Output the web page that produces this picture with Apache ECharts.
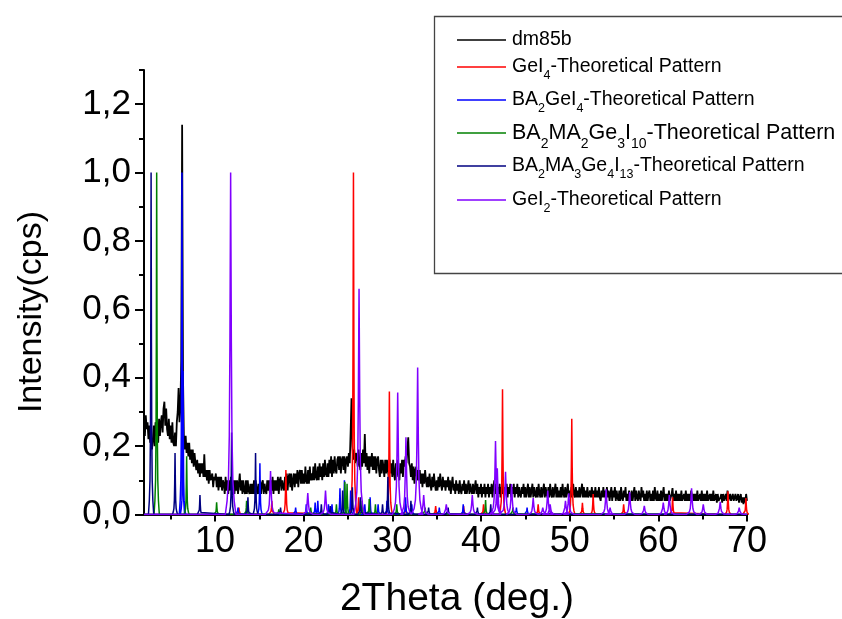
<!DOCTYPE html>
<html><head><meta charset="utf-8">
<script src="https://cdn.jsdelivr.net/npm/echarts@6/dist/echarts.min.js"></script>
<style>html,body{margin:0;padding:0;background:#fff}#c{width:842px;height:619px}</style>
</head><body><div id="c"></div>
<script>
const FONT = "'Liberation Sans', Arial, Helvetica, sans-serif";

const xTicks = [10, 20, 30, 40, 50, 60, 70];
const xMinorTicks = [5, 15, 25, 35, 45, 55, 65];
const yTicks = [0, 0.2, 0.4, 0.6, 0.8, 1.0, 1.2];
const yMinorTicks = [0.1, 0.3, 0.5, 0.7, 0.9, 1.1, 1.3];

const seriesNames = ['dm85b', 'GeI4-Theoretical Pattern', 'BA2GeI4-Theoretical Pattern',
  'BA2MA2Ge3I10-Theoretical Pattern', 'BA2MA3Ge4I13-Theoretical Pattern', 'GeI2-Theoretical Pattern'];
const legendLabels = [
  '{n|dm85b}',
  '{n|GeI}{s|4}{n|-Theoretical Pattern}',
  '{n|BA}{s|2}{n|GeI}{s|4}{n|-Theoretical Pattern}',
  '{N|BA}{S|2}{N|MA}{S|2}{N|Ge}{S|3}{N|I}{S|10}{N|-Theoretical Pattern}',
  '{n|BA}{s|2}{n|MA}{s|3}{n|Ge}{s|4}{n|I}{s|13}{n|-Theoretical Pattern}',
  '{n|GeI}{s|2}{n|-Theoretical Pattern}'
];

// measured pattern dm85b: 2θ from 2.0 in steps of 0.1
const dm85bStart = 2.0;
const dm85bStep = 0.1;
const dm85b = [
0.27,0.23,0.29,0.25,0.27,0.22,0.26,0.21,0.22,0.19,
0.22,0.26,0.20,0.27,0.23,0.25,0.21,0.28,0.23,0.27,
0.29,0.24,0.31,0.33,0.26,0.31,0.25,0.23,0.28,0.22,
0.26,0.21,0.27,0.21,0.20,0.24,0.20,0.27,0.30,0.37,
0.27,0.31,0.45,1.14,0.40,0.22,0.19,0.23,0.18,0.21,
0.17,0.21,0.16,0.19,0.15,0.19,0.14,0.18,0.15,0.13,
0.16,0.12,0.15,0.11,0.15,0.12,0.15,0.11,0.176,0.11,
0.13,0.10,0.13,0.09,0.13,0.10,0.11,0.12,0.08,0.11,
0.10,0.12,0.08,0.11,0.07,0.11,0.08,0.11,0.07,0.10,
0.09,0.06,0.11,0.07,0.10,0.06,0.10,0.07,0.11,0.08,
0.07,0.10,0.06,0.10,0.07,0.10,0.06,0.09,0.12,0.07,
0.10,0.06,0.10,0.07,0.06,0.10,0.06,0.10,0.07,0.06,
0.09,0.06,0.09,0.06,0.10,0.06,0.10,0.07,0.06,0.09,
0.06,0.10,0.06,0.09,0.10,0.06,0.09,0.07,0.06,0.10,
0.07,0.10,0.06,0.10,0.07,0.11,0.06,0.10,0.07,0.10,
0.07,0.11,0.06,0.10,0.11,0.07,0.10,0.08,0.07,0.11,
0.08,0.12,0.07,0.11,0.12,0.08,0.12,0.07,0.10,0.12,
0.08,0.12,0.09,0.13,0.08,0.12,0.13,0.09,0.13,0.09,
0.12,0.09,0.14,0.10,0.09,0.13,0.09,0.14,0.10,0.12,
0.10,0.14,0.10,0.15,0.11,0.10,0.14,0.10,0.15,0.11,
0.14,0.10,0.15,0.11,0.16,0.12,0.11,0.15,0.11,0.16,
0.12,0.17,0.11,0.16,0.12,0.17,0.13,0.12,0.16,0.17,
0.13,0.17,0.12,0.16,0.17,0.13,0.17,0.12,0.16,0.17,
0.14,0.18,0.15,0.24,0.34,0.20,0.16,0.19,0.15,0.18,
0.17,0.14,0.19,0.15,0.13,0.18,0.14,0.19,0.15,0.235,
0.14,0.18,0.13,0.17,0.12,0.17,0.14,0.18,0.13,0.17,
0.13,0.17,0.12,0.16,0.17,0.13,0.11,0.16,0.12,0.16,
0.14,0.11,0.16,0.12,0.16,0.13,0.11,0.16,0.12,0.15,
0.11,0.16,0.12,0.10,0.15,0.11,0.16,0.12,0.10,0.15,
0.12,0.16,0.11,0.16,0.14,0.17,0.15,0.19,0.226,0.15,
0.14,0.11,0.15,0.10,0.14,0.09,0.13,0.14,0.10,0.13,
0.10,0.13,0.09,0.12,0.08,0.12,0.09,0.13,0.10,0.08,
0.11,0.08,0.12,0.09,0.07,0.11,0.08,0.12,0.09,0.07,
0.10,0.07,0.11,0.08,0.12,0.09,0.07,0.11,0.08,0.10,
0.07,0.10,0.08,0.11,0.07,0.10,0.06,0.09,0.11,0.07,
0.09,0.06,0.10,0.07,0.09,0.06,0.10,0.07,0.06,0.09,
0.07,0.10,0.06,0.09,0.06,0.08,0.10,0.06,0.09,0.07,
0.06,0.09,0.06,0.08,0.10,0.06,0.09,0.05,0.08,0.06,
0.09,0.05,0.08,0.06,0.09,0.05,0.08,0.06,0.09,0.05,
0.08,0.06,0.09,0.05,0.08,0.10,0.06,0.09,0.05,0.08,
0.06,0.09,0.05,0.08,0.06,0.09,0.05,0.08,0.06,0.09,
0.05,0.08,0.06,0.09,0.05,0.08,0.06,0.09,0.05,0.08,
0.06,0.09,0.05,0.08,0.06,0.05,0.08,0.06,0.09,0.05,
0.08,0.05,0.07,0.09,0.05,0.08,0.05,0.07,0.09,0.05,
0.08,0.06,0.05,0.08,0.05,0.09,0.06,0.05,0.08,0.05,
0.07,0.09,0.05,0.08,0.06,0.05,0.08,0.05,0.09,0.06,
0.05,0.08,0.05,0.07,0.09,0.05,0.08,0.05,0.07,0.05,
0.08,0.05,0.09,0.06,0.05,0.08,0.05,0.07,0.09,0.05,
0.07,0.05,0.08,0.05,0.09,0.06,0.05,0.08,0.05,0.07,
0.05,0.08,0.05,0.07,0.09,0.05,0.08,0.05,0.07,0.05,
0.08,0.05,0.05,0.07,0.05,0.08,0.05,0.07,0.05,0.08,
0.05,0.07,0.05,0.08,0.05,0.04,0.07,0.05,0.08,0.05,
0.07,0.04,0.08,0.05,0.07,0.04,0.06,0.08,0.04,0.07,
0.05,0.08,0.04,0.07,0.05,0.04,0.07,0.04,0.08,0.05,
0.04,0.07,0.05,0.08,0.04,0.06,0.04,0.07,0.05,0.04,
0.07,0.04,0.06,0.08,0.04,0.07,0.05,0.04,0.07,0.05,
0.04,0.08,0.05,0.07,0.04,0.06,0.04,0.07,0.04,0.06,
0.07,0.04,0.06,0.04,0.07,0.04,0.08,0.05,0.04,0.07,
0.04,0.06,0.04,0.07,0.04,0.06,0.08,0.04,0.06,0.04,
0.06,0.04,0.07,0.04,0.04,0.06,0.077,0.04,0.06,0.04,
0.07,0.04,0.06,0.04,0.06,0.04,0.07,0.04,0.04,0.06,
0.04,0.07,0.04,0.06,0.04,0.06,0.04,0.07,0.075,0.04,
0.06,0.04,0.06,0.04,0.07,0.04,0.04,0.06,0.04,0.07,
0.04,0.06,0.04,0.06,0.04,0.07,0.04,0.05,0.06,0.04,
0.06,0.04,0.07,0.04,0.05,0.06,0.035,0.06,0.04,0.04,
0.05,0.06,0.035,0.06,0.04,0.04,0.06,0.04,0.07,0.04,
0.035,0.06,0.04,0.04,0.06,0.04,0.035,0.06,0.04,0.035,
0.06,0.035,0.05,0.06,0.035,0.05,0.03,0.05,0.035,0.06,
0.04
];

// theoretical patterns: [2θ, relative intensity]
const gei4Peaks = [[12.7,0.02],[16.42,0.04],[18.0,0.13],[25.62,1.0],[26.2,0.05],[29.67,0.36],[31.5,0.03],[34.89,0.025],[38.04,0.025],[40.29,0.03],[42.43,0.366],[46.45,0.03],[50.24,0.28],[51.44,0.034],[52.65,0.06],[56.09,0.03],[61.61,0.05],[67.85,0.068],[69.88,0.048]];
const ba2gei4Peaks = [[6.28,1.0],[6.4,0.42],[12.6,0.02],[15.07,0.15],[19.1,0.02],[20.3,0.03],[21.3,0.035],[21.6,0.04],[22.8,0.03],[23.2,0.03],[24.1,0.077],[24.6,0.1],[25.3,0.07],[26.9,0.03],[27.5,0.05],[28.4,0.03],[29.4,0.04],[31.5,0.05],[32.2,0.03],[35.3,0.02],[38.0,0.03],[44.0,0.02],[45.2,0.02]];
const ba2ma2Peaks = [[3.43,1.0],[6.81,0.17],[10.19,0.036],[13.57,0.04],[17.2,0.015],[20.8,0.02],[23.7,0.03],[24.65,0.096],[24.9,0.09],[26.6,0.04],[27.4,0.045],[28.1,0.03],[30.5,0.03],[33.7,0.02],[40.52,0.042],[43.6,0.02]];
const ba2ma3Peaks = [[2.8,1.0],[5.5,0.18],[8.31,0.057],[11.88,0.24],[13.72,0.05],[14.58,0.18],[17.4,0.02],[22.0,0.03],[23.0,0.025],[24.4,0.07],[25.5,0.08],[26.4,0.05],[28.9,0.03],[29.5,0.11],[32.1,0.04],[34.1,0.02],[36.3,0.02],[39.6,0.02],[41.1,0.03]];
const gei2Peaks = [[11.77,1.0],[16.27,0.127],[20.47,0.063],[22.47,0.07],[26.25,0.66],[30.61,0.357],[31.54,0.226],[32.86,0.43],[33.54,0.057],[36.09,0.03],[39.02,0.057],[41.64,0.215],[41.84,0.135],[42.77,0.125],[43.45,0.089],[45.89,0.048],[46.97,0.02],[47.53,0.07],[47.8,0.03],[49.53,0.04],[49.9,0.062],[54.11,0.074],[54.56,0.02],[56.77,0.066],[58.42,0.025],[60.56,0.035],[61.24,0.057],[63.75,0.077],[65.07,0.03],[66.98,0.037],[69.12,0.02]];

const X_MIN = 2, X_MAX = 70;
// peak line shape (offset in degrees, fraction of peak height)
const PROFILE = [[-0.6,0],[-0.4,0.04],[-0.25,0.1],[-0.15,0.23],[-0.08,0.5],[0,1],[0.08,0.5],[0.15,0.23],[0.25,0.1],[0.4,0.04],[0.6,0]];

function buildPattern(peaks, widthScale) {
  const d = [[X_MIN, 0]];
  peaks.forEach(function (pk) {
    PROFILE.forEach(function (pr) { d.push([pk[0] + pr[0] * widthScale, pk[1] * pr[1]]); });
  });
  d.push([X_MAX, 0]);
  return d;
}
const dm85bData = dm85b.map(function (v, i) { return [+(dm85bStart + i * dm85bStep).toFixed(2), v]; });

const colors = ['#000000', '#ff0000', '#0000ff', '#008000', '#000080', '#8000ff'];
const patterns = [null, gei4Peaks, ba2gei4Peaks, ba2ma2Peaks, ba2ma3Peaks, gei2Peaks];
const widthScales = [0, 0.6, 0.5, 0.5, 0.5, 1.0];

const series = seriesNames.map(function (name, i) {
  return {
    name: name, type: 'line', xAxisIndex: 0, yAxisIndex: 0,
    data: i === 0 ? dm85bData : buildPattern(patterns[i], widthScales[i]),
    symbol: 'none', showSymbol: false, clip: true, z: 2 + i,
    lineStyle: { color: colors[i], width: i === 0 ? 1.8 : 1.5 },
    itemStyle: { color: colors[i] },
    emphasis: { disabled: true }, animation: false
  };
});

const legendIconY = [40, 67, 100, 133, 166, 200];
const richStyles = {
  n: { fontSize: 19.5, lineHeight: 31, verticalAlign: 'middle', fontFamily: FONT, fill: '#000' },
  s: { fontSize: 12.5, lineHeight: 13, verticalAlign: 'bottom', fontFamily: FONT, fill: '#000' },
  N: { fontSize: 21.5, lineHeight: 36, verticalAlign: 'middle', fontFamily: FONT, fill: '#000' },
  S: { fontSize: 14, lineHeight: 14, verticalAlign: 'bottom', fontFamily: FONT, fill: '#000' }
};
const legendGraphics = [];
seriesNames.forEach(function (name, i) {
  const y = legendIconY[i];
  legendGraphics.push({ type: 'line', shape: { x1: 457, y1: y, x2: 506, y2: y },
    style: { stroke: colors[i], lineWidth: 1.4 }, z: 20 });
  legendGraphics.push({ type: 'text', x: 512, y: y, z: 20,
    style: { text: legendLabels[i], rich: richStyles, fontFamily: FONT, fontSize: 19.5,
      fill: '#000', align: 'left', verticalAlign: 'middle' } });
});

const axisColor = '#000';
const chart = echarts.init(document.getElementById('c'), null, { renderer: 'canvas' });
chart.setOption({
  animation: false,
  backgroundColor: '#ffffff',
  grid: [
    { left: 144, right: 95, top: 70, bottom: 104.5, containLabel: false },
    { left: 144, right: 95, top: 70, bottom: 104.5, containLabel: false }
  ],
  xAxis: [
    { type: 'value', gridIndex: 0, min: X_MIN, max: X_MAX,
      axisLine: { show: true, onZero: false, lineStyle: { color: axisColor, width: 2 } },
      axisTick: { show: true, length: 7, customValues: xTicks, lineStyle: { color: axisColor, width: 2 } },
      axisLabel: { customValues: xTicks, fontSize: 36, color: '#000', margin: 10, fontFamily: FONT },
      splitLine: { show: false } },
    { type: 'value', gridIndex: 1, min: X_MIN, max: X_MAX,
      axisLine: { show: false },
      axisTick: { show: true, length: 5, customValues: xMinorTicks, lineStyle: { color: axisColor, width: 2 } },
      axisLabel: { show: false }, splitLine: { show: false } }
  ],
  yAxis: [
    { type: 'value', gridIndex: 0, min: 0, max: 1.3,
      axisLine: { show: true, onZero: false, lineStyle: { color: axisColor, width: 2 } },
      axisTick: { show: true, length: 9, customValues: yTicks, lineStyle: { color: axisColor, width: 2 } },
      axisLabel: { customValues: yTicks, fontSize: 35, color: '#000', margin: 13, fontFamily: FONT,
        formatter: function (v) { return v.toFixed(1).replace('.', ','); } },
      splitLine: { show: false } },
    { type: 'value', gridIndex: 1, min: 0, max: 1.3,
      axisLine: { show: false },
      axisTick: { show: true, length: 5, customValues: yMinorTicks, lineStyle: { color: axisColor, width: 2 } },
      axisLabel: { show: false }, splitLine: { show: false } }
  ],
  graphic: [
    { type: 'rect', left: 432, top: 14, shape: { x: 0, y: 0, width: 430, height: 257 },
      style: { fill: 'none', stroke: '#444', lineWidth: 1.3 }, z: 10 },
    { type: 'text', x: 32, y: 312, rotation: Math.PI / 2,
      style: { text: 'Intensity(cps)', fontSize: 34, fill: '#000', align: 'center', verticalAlign: 'middle', fontFamily: FONT } },
    { type: 'text', x: 457, y: 599,
      style: { text: '2Theta (deg.)', fontSize: 39, fill: '#000', align: 'center', verticalAlign: 'middle', fontFamily: FONT } }
  ].concat(legendGraphics),
  series: series
});
</script>
</body></html>
